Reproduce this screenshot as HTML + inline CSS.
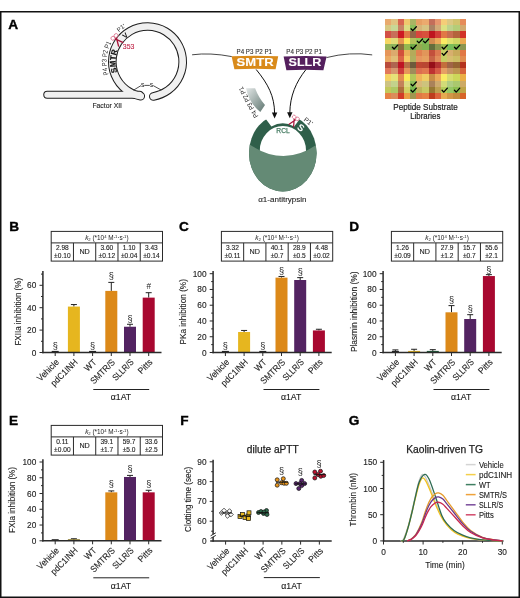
<!DOCTYPE html>
<html><head><meta charset="utf-8"><style>
html,body{margin:0;padding:0;background:#fff;}
body{width:520px;height:598px;overflow:hidden;font-family:"Liberation Sans", sans-serif;}
svg{display:block;will-change:transform;}
</style></head><body>
<svg width="520" height="598" viewBox="0 0 520 598" font-family='"Liberation Sans", sans-serif'>
<rect width="520" height="598" fill="#fff"/>
<rect x="51.20" y="231.40" width="111.30" height="29.70" fill="none" stroke="#2a2a2a" stroke-width="1"/>
<line x1="51.20" y1="242.90" x2="162.50" y2="242.90" stroke="#2a2a2a" stroke-width="1" />
<line x1="73.46" y1="242.90" x2="73.46" y2="261.10" stroke="#2a2a2a" stroke-width="1" />
<line x1="95.72" y1="242.90" x2="95.72" y2="261.10" stroke="#2a2a2a" stroke-width="1" />
<line x1="117.98" y1="242.90" x2="117.98" y2="261.10" stroke="#2a2a2a" stroke-width="1" />
<line x1="140.24" y1="242.90" x2="140.24" y2="261.10" stroke="#2a2a2a" stroke-width="1" />
<text x="106.85" y="239.80" font-size="6.4" text-anchor="middle" fill="#222"><tspan font-style="italic">k</tspan><tspan font-size="4.2" dy="1.2">2</tspan><tspan dy="-1.2"> (*10</tspan><tspan font-size="4.2" dy="-2.2">4</tspan><tspan dy="2.2"> M</tspan><tspan font-size="4.2" dy="-2.2">-1</tspan><tspan dy="2.2">&#183;s</tspan><tspan font-size="4.2" dy="-2.2">-1</tspan><tspan dy="2.2">)</tspan></text>
<text x="62.33" y="250.10" font-size="6.6" text-anchor="middle" fill="#222" font-weight="normal" stroke="#222" stroke-width="0.12" >2.98</text>
<text x="62.33" y="258.30" font-size="6.6" text-anchor="middle" fill="#222" font-weight="normal" stroke="#222" stroke-width="0.12" >&#177;0.10</text>
<text x="84.59" y="254.20" font-size="7.2" text-anchor="middle" fill="#222" font-weight="normal" stroke="#222" stroke-width="0.12" >ND</text>
<text x="106.85" y="250.10" font-size="6.6" text-anchor="middle" fill="#222" font-weight="normal" stroke="#222" stroke-width="0.12" >3.60</text>
<text x="106.85" y="258.30" font-size="6.6" text-anchor="middle" fill="#222" font-weight="normal" stroke="#222" stroke-width="0.12" >&#177;0.12</text>
<text x="129.11" y="250.10" font-size="6.6" text-anchor="middle" fill="#222" font-weight="normal" stroke="#222" stroke-width="0.12" >1.10</text>
<text x="129.11" y="258.30" font-size="6.6" text-anchor="middle" fill="#222" font-weight="normal" stroke="#222" stroke-width="0.12" >&#177;0.04</text>
<text x="151.37" y="250.10" font-size="6.6" text-anchor="middle" fill="#222" font-weight="normal" stroke="#222" stroke-width="0.12" >3.43</text>
<text x="151.37" y="258.30" font-size="6.6" text-anchor="middle" fill="#222" font-weight="normal" stroke="#222" stroke-width="0.12" >&#177;0.14</text>
<rect x="51.70" y="350.90" width="7.00" height="1.20" fill="#222" />
<line x1="73.90" y1="304.56" x2="73.90" y2="306.58" stroke="#222" stroke-width="1" />
<line x1="70.90" y1="304.56" x2="76.90" y2="304.56" stroke="#222" stroke-width="1" />
<rect x="67.90" y="306.58" width="12.00" height="45.92" fill="#E6B61F" />
<rect x="89.10" y="350.90" width="7.00" height="1.20" fill="#222" />
<line x1="111.30" y1="282.39" x2="111.30" y2="290.90" stroke="#222" stroke-width="1" />
<line x1="108.30" y1="282.39" x2="114.30" y2="282.39" stroke="#222" stroke-width="1" />
<rect x="105.30" y="290.90" width="12.00" height="61.60" fill="#DC8919" />
<line x1="130.00" y1="324.28" x2="130.00" y2="326.74" stroke="#222" stroke-width="1" />
<line x1="127.00" y1="324.28" x2="133.00" y2="324.28" stroke="#222" stroke-width="1" />
<rect x="124.00" y="326.74" width="12.00" height="25.76" fill="#532362" />
<line x1="148.70" y1="292.69" x2="148.70" y2="297.62" stroke="#222" stroke-width="1" />
<line x1="145.70" y1="292.69" x2="151.70" y2="292.69" stroke="#222" stroke-width="1" />
<rect x="142.70" y="297.62" width="12.00" height="54.88" fill="#A80830" />
<line x1="42.15" y1="352.50" x2="161.50" y2="352.50" stroke="#2a2a2a" stroke-width="1.5" />
<line x1="42.90" y1="271.00" x2="42.90" y2="353.25" stroke="#2a2a2a" stroke-width="1.5" />
<line x1="39.50" y1="352.50" x2="42.90" y2="352.50" stroke="#2a2a2a" stroke-width="1" />
<text x="36.30" y="355.50" font-size="8.3" text-anchor="end" fill="#222" font-weight="normal" stroke="#222" stroke-width="0.12" >0</text>
<line x1="39.50" y1="330.10" x2="42.90" y2="330.10" stroke="#2a2a2a" stroke-width="1" />
<text x="36.30" y="333.10" font-size="8.3" text-anchor="end" fill="#222" font-weight="normal" stroke="#222" stroke-width="0.12" >20</text>
<line x1="39.50" y1="307.70" x2="42.90" y2="307.70" stroke="#2a2a2a" stroke-width="1" />
<text x="36.30" y="310.70" font-size="8.3" text-anchor="end" fill="#222" font-weight="normal" stroke="#222" stroke-width="0.12" >40</text>
<line x1="39.50" y1="285.30" x2="42.90" y2="285.30" stroke="#2a2a2a" stroke-width="1" />
<text x="36.30" y="288.30" font-size="8.3" text-anchor="end" fill="#222" font-weight="normal" stroke="#222" stroke-width="0.12" >60</text>
<line x1="41.00" y1="341.30" x2="42.90" y2="341.30" stroke="#2a2a2a" stroke-width="1" />
<line x1="41.00" y1="318.90" x2="42.90" y2="318.90" stroke="#2a2a2a" stroke-width="1" />
<line x1="41.00" y1="296.50" x2="42.90" y2="296.50" stroke="#2a2a2a" stroke-width="1" />
<line x1="41.00" y1="274.10" x2="42.90" y2="274.10" stroke="#2a2a2a" stroke-width="1" />
<line x1="55.20" y1="352.50" x2="55.20" y2="356.00" stroke="#2a2a2a" stroke-width="1" />
<line x1="73.90" y1="352.50" x2="73.90" y2="356.00" stroke="#2a2a2a" stroke-width="1" />
<line x1="92.60" y1="352.50" x2="92.60" y2="356.00" stroke="#2a2a2a" stroke-width="1" />
<line x1="111.30" y1="352.50" x2="111.30" y2="356.00" stroke="#2a2a2a" stroke-width="1" />
<line x1="130.00" y1="352.50" x2="130.00" y2="356.00" stroke="#2a2a2a" stroke-width="1" />
<line x1="148.70" y1="352.50" x2="148.70" y2="356.00" stroke="#2a2a2a" stroke-width="1" />
<text x="55.20" y="348.62" font-size="9.2" text-anchor="middle" fill="#222" font-weight="normal" >&#167;</text>
<text x="92.60" y="348.62" font-size="9.2" text-anchor="middle" fill="#222" font-weight="normal" >&#167;</text>
<text x="111.30" y="279.22" font-size="9.2" text-anchor="middle" fill="#222" font-weight="normal" >&#167;</text>
<text x="130.00" y="322.12" font-size="9.2" text-anchor="middle" fill="#222" font-weight="normal" >&#167;</text>
<text x="148.80" y="289.00" font-size="8.2" text-anchor="middle" fill="#222" font-weight="normal" >#</text>
<text x="20.90" y="311.75" font-size="9.6" text-anchor="middle" fill="#222" font-weight="normal" textLength="67.6" lengthAdjust="spacingAndGlyphs" stroke="#222" stroke-width="0.12" transform="rotate(-90 20.90 311.75)">FXIIa inhibition (%)</text>
<text x="59.60" y="362.80" font-size="9.0" text-anchor="end" fill="#222" font-weight="normal" textLength="26.9" lengthAdjust="spacingAndGlyphs" stroke="#222" stroke-width="0.12" transform="rotate(-45 59.60 362.80)">Vehicle</text>
<text x="78.30" y="362.80" font-size="9.0" text-anchor="end" fill="#222" font-weight="normal" textLength="34.0" lengthAdjust="spacingAndGlyphs" stroke="#222" stroke-width="0.12" transform="rotate(-45 78.30 362.80)">pdC1INH</text>
<text x="97.00" y="362.80" font-size="9.0" text-anchor="end" fill="#222" font-weight="normal" textLength="13.0" lengthAdjust="spacingAndGlyphs" stroke="#222" stroke-width="0.12" transform="rotate(-45 97.00 362.80)">WT</text>
<text x="115.70" y="362.80" font-size="9.0" text-anchor="end" fill="#222" font-weight="normal" textLength="30.8" lengthAdjust="spacingAndGlyphs" stroke="#222" stroke-width="0.12" transform="rotate(-45 115.70 362.80)">SMTR/S</text>
<text x="134.40" y="362.80" font-size="9.0" text-anchor="end" fill="#222" font-weight="normal" textLength="26.0" lengthAdjust="spacingAndGlyphs" stroke="#222" stroke-width="0.12" transform="rotate(-45 134.40 362.80)">SLLR/S</text>
<text x="153.10" y="362.80" font-size="9.0" text-anchor="end" fill="#222" font-weight="normal" textLength="16.5" lengthAdjust="spacingAndGlyphs" stroke="#222" stroke-width="0.12" transform="rotate(-45 153.10 362.80)">Pitts</text>
<line x1="93.30" y1="389.50" x2="149.20" y2="389.50" stroke="#222" stroke-width="1" />
<text x="120.95" y="400.30" font-size="8.2" text-anchor="middle" fill="#222" font-weight="normal" textLength="20.4" lengthAdjust="spacingAndGlyphs" stroke="#222" stroke-width="0.12" >&#945;1AT</text>
<rect x="221.40" y="231.40" width="111.30" height="29.70" fill="none" stroke="#2a2a2a" stroke-width="1"/>
<line x1="221.40" y1="242.90" x2="332.70" y2="242.90" stroke="#2a2a2a" stroke-width="1" />
<line x1="243.66" y1="242.90" x2="243.66" y2="261.10" stroke="#2a2a2a" stroke-width="1" />
<line x1="265.92" y1="242.90" x2="265.92" y2="261.10" stroke="#2a2a2a" stroke-width="1" />
<line x1="288.18" y1="242.90" x2="288.18" y2="261.10" stroke="#2a2a2a" stroke-width="1" />
<line x1="310.44" y1="242.90" x2="310.44" y2="261.10" stroke="#2a2a2a" stroke-width="1" />
<text x="277.05" y="239.80" font-size="6.4" text-anchor="middle" fill="#222"><tspan font-style="italic">k</tspan><tspan font-size="4.2" dy="1.2">2</tspan><tspan dy="-1.2"> (*10</tspan><tspan font-size="4.2" dy="-2.2">4</tspan><tspan dy="2.2"> M</tspan><tspan font-size="4.2" dy="-2.2">-1</tspan><tspan dy="2.2">&#183;s</tspan><tspan font-size="4.2" dy="-2.2">-1</tspan><tspan dy="2.2">)</tspan></text>
<text x="232.53" y="250.10" font-size="6.6" text-anchor="middle" fill="#222" font-weight="normal" stroke="#222" stroke-width="0.12" >3.32</text>
<text x="232.53" y="258.30" font-size="6.6" text-anchor="middle" fill="#222" font-weight="normal" stroke="#222" stroke-width="0.12" >&#177;0.11</text>
<text x="254.79" y="254.20" font-size="7.2" text-anchor="middle" fill="#222" font-weight="normal" stroke="#222" stroke-width="0.12" >ND</text>
<text x="277.05" y="250.10" font-size="6.6" text-anchor="middle" fill="#222" font-weight="normal" stroke="#222" stroke-width="0.12" >40.1</text>
<text x="277.05" y="258.30" font-size="6.6" text-anchor="middle" fill="#222" font-weight="normal" stroke="#222" stroke-width="0.12" >&#177;0.7</text>
<text x="299.31" y="250.10" font-size="6.6" text-anchor="middle" fill="#222" font-weight="normal" stroke="#222" stroke-width="0.12" >28.9</text>
<text x="299.31" y="258.30" font-size="6.6" text-anchor="middle" fill="#222" font-weight="normal" stroke="#222" stroke-width="0.12" >&#177;0.5</text>
<text x="321.57" y="250.10" font-size="6.6" text-anchor="middle" fill="#222" font-weight="normal" stroke="#222" stroke-width="0.12" >4.48</text>
<text x="321.57" y="258.30" font-size="6.6" text-anchor="middle" fill="#222" font-weight="normal" stroke="#222" stroke-width="0.12" >&#177;0.02</text>
<rect x="221.90" y="350.90" width="7.00" height="1.20" fill="#222" />
<line x1="244.10" y1="330.44" x2="244.10" y2="332.01" stroke="#222" stroke-width="1" />
<line x1="241.10" y1="330.44" x2="247.10" y2="330.44" stroke="#222" stroke-width="1" />
<rect x="238.10" y="332.01" width="12.00" height="20.49" fill="#E6B61F" />
<rect x="259.30" y="350.90" width="7.00" height="1.20" fill="#222" />
<line x1="281.50" y1="276.46" x2="281.50" y2="277.64" stroke="#222" stroke-width="1" />
<line x1="278.50" y1="276.46" x2="284.50" y2="276.46" stroke="#222" stroke-width="1" />
<rect x="275.50" y="277.64" width="12.00" height="74.86" fill="#DC8919" />
<line x1="300.20" y1="277.64" x2="300.20" y2="280.00" stroke="#222" stroke-width="1" />
<line x1="297.20" y1="277.64" x2="303.20" y2="277.64" stroke="#222" stroke-width="1" />
<rect x="294.20" y="280.00" width="12.00" height="72.50" fill="#532362" />
<line x1="318.90" y1="329.25" x2="318.90" y2="330.44" stroke="#222" stroke-width="1" />
<line x1="315.90" y1="329.25" x2="321.90" y2="329.25" stroke="#222" stroke-width="1" />
<rect x="312.90" y="330.44" width="12.00" height="22.06" fill="#A80830" />
<line x1="212.35" y1="352.50" x2="331.70" y2="352.50" stroke="#2a2a2a" stroke-width="1.5" />
<line x1="213.10" y1="271.00" x2="213.10" y2="353.25" stroke="#2a2a2a" stroke-width="1.5" />
<line x1="209.70" y1="352.50" x2="213.10" y2="352.50" stroke="#2a2a2a" stroke-width="1" />
<text x="206.50" y="355.50" font-size="8.3" text-anchor="end" fill="#222" font-weight="normal" stroke="#222" stroke-width="0.12" >0</text>
<line x1="209.70" y1="336.74" x2="213.10" y2="336.74" stroke="#2a2a2a" stroke-width="1" />
<text x="206.50" y="339.74" font-size="8.3" text-anchor="end" fill="#222" font-weight="normal" stroke="#222" stroke-width="0.12" >20</text>
<line x1="209.70" y1="320.98" x2="213.10" y2="320.98" stroke="#2a2a2a" stroke-width="1" />
<text x="206.50" y="323.98" font-size="8.3" text-anchor="end" fill="#222" font-weight="normal" stroke="#222" stroke-width="0.12" >40</text>
<line x1="209.70" y1="305.22" x2="213.10" y2="305.22" stroke="#2a2a2a" stroke-width="1" />
<text x="206.50" y="308.22" font-size="8.3" text-anchor="end" fill="#222" font-weight="normal" stroke="#222" stroke-width="0.12" >60</text>
<line x1="209.70" y1="289.46" x2="213.10" y2="289.46" stroke="#2a2a2a" stroke-width="1" />
<text x="206.50" y="292.46" font-size="8.3" text-anchor="end" fill="#222" font-weight="normal" stroke="#222" stroke-width="0.12" >80</text>
<line x1="209.70" y1="273.70" x2="213.10" y2="273.70" stroke="#2a2a2a" stroke-width="1" />
<text x="206.50" y="276.70" font-size="8.3" text-anchor="end" fill="#222" font-weight="normal" stroke="#222" stroke-width="0.12" >100</text>
<line x1="211.20" y1="344.62" x2="213.10" y2="344.62" stroke="#2a2a2a" stroke-width="1" />
<line x1="211.20" y1="328.86" x2="213.10" y2="328.86" stroke="#2a2a2a" stroke-width="1" />
<line x1="211.20" y1="313.10" x2="213.10" y2="313.10" stroke="#2a2a2a" stroke-width="1" />
<line x1="211.20" y1="297.34" x2="213.10" y2="297.34" stroke="#2a2a2a" stroke-width="1" />
<line x1="211.20" y1="281.58" x2="213.10" y2="281.58" stroke="#2a2a2a" stroke-width="1" />
<line x1="225.40" y1="352.50" x2="225.40" y2="356.00" stroke="#2a2a2a" stroke-width="1" />
<line x1="244.10" y1="352.50" x2="244.10" y2="356.00" stroke="#2a2a2a" stroke-width="1" />
<line x1="262.80" y1="352.50" x2="262.80" y2="356.00" stroke="#2a2a2a" stroke-width="1" />
<line x1="281.50" y1="352.50" x2="281.50" y2="356.00" stroke="#2a2a2a" stroke-width="1" />
<line x1="300.20" y1="352.50" x2="300.20" y2="356.00" stroke="#2a2a2a" stroke-width="1" />
<line x1="318.90" y1="352.50" x2="318.90" y2="356.00" stroke="#2a2a2a" stroke-width="1" />
<text x="225.40" y="349.42" font-size="9.2" text-anchor="middle" fill="#222" font-weight="normal" >&#167;</text>
<text x="262.80" y="349.42" font-size="9.2" text-anchor="middle" fill="#222" font-weight="normal" >&#167;</text>
<text x="281.50" y="274.02" font-size="9.2" text-anchor="middle" fill="#222" font-weight="normal" >&#167;</text>
<text x="300.20" y="274.82" font-size="9.2" text-anchor="middle" fill="#222" font-weight="normal" >&#167;</text>
<text x="185.90" y="311.75" font-size="9.6" text-anchor="middle" fill="#222" font-weight="normal" textLength="65.4" lengthAdjust="spacingAndGlyphs" stroke="#222" stroke-width="0.12" transform="rotate(-90 185.90 311.75)">PKa inhibition (%)</text>
<text x="229.80" y="362.80" font-size="9.0" text-anchor="end" fill="#222" font-weight="normal" textLength="26.9" lengthAdjust="spacingAndGlyphs" stroke="#222" stroke-width="0.12" transform="rotate(-45 229.80 362.80)">Vehicle</text>
<text x="248.50" y="362.80" font-size="9.0" text-anchor="end" fill="#222" font-weight="normal" textLength="34.0" lengthAdjust="spacingAndGlyphs" stroke="#222" stroke-width="0.12" transform="rotate(-45 248.50 362.80)">pdC1INH</text>
<text x="267.20" y="362.80" font-size="9.0" text-anchor="end" fill="#222" font-weight="normal" textLength="13.0" lengthAdjust="spacingAndGlyphs" stroke="#222" stroke-width="0.12" transform="rotate(-45 267.20 362.80)">WT</text>
<text x="285.90" y="362.80" font-size="9.0" text-anchor="end" fill="#222" font-weight="normal" textLength="30.8" lengthAdjust="spacingAndGlyphs" stroke="#222" stroke-width="0.12" transform="rotate(-45 285.90 362.80)">SMTR/S</text>
<text x="304.60" y="362.80" font-size="9.0" text-anchor="end" fill="#222" font-weight="normal" textLength="26.0" lengthAdjust="spacingAndGlyphs" stroke="#222" stroke-width="0.12" transform="rotate(-45 304.60 362.80)">SLLR/S</text>
<text x="323.30" y="362.80" font-size="9.0" text-anchor="end" fill="#222" font-weight="normal" textLength="16.5" lengthAdjust="spacingAndGlyphs" stroke="#222" stroke-width="0.12" transform="rotate(-45 323.30 362.80)">Pitts</text>
<line x1="263.50" y1="389.50" x2="319.40" y2="389.50" stroke="#222" stroke-width="1" />
<text x="291.15" y="400.30" font-size="8.2" text-anchor="middle" fill="#222" font-weight="normal" textLength="20.4" lengthAdjust="spacingAndGlyphs" stroke="#222" stroke-width="0.12" >&#945;1AT</text>
<rect x="391.40" y="231.40" width="111.30" height="29.70" fill="none" stroke="#2a2a2a" stroke-width="1"/>
<line x1="391.40" y1="242.90" x2="502.70" y2="242.90" stroke="#2a2a2a" stroke-width="1" />
<line x1="413.66" y1="242.90" x2="413.66" y2="261.10" stroke="#2a2a2a" stroke-width="1" />
<line x1="435.92" y1="242.90" x2="435.92" y2="261.10" stroke="#2a2a2a" stroke-width="1" />
<line x1="458.18" y1="242.90" x2="458.18" y2="261.10" stroke="#2a2a2a" stroke-width="1" />
<line x1="480.44" y1="242.90" x2="480.44" y2="261.10" stroke="#2a2a2a" stroke-width="1" />
<text x="447.05" y="239.80" font-size="6.4" text-anchor="middle" fill="#222"><tspan font-style="italic">k</tspan><tspan font-size="4.2" dy="1.2">2</tspan><tspan dy="-1.2"> (*10</tspan><tspan font-size="4.2" dy="-2.2">4</tspan><tspan dy="2.2"> M</tspan><tspan font-size="4.2" dy="-2.2">-1</tspan><tspan dy="2.2">&#183;s</tspan><tspan font-size="4.2" dy="-2.2">-1</tspan><tspan dy="2.2">)</tspan></text>
<text x="402.53" y="250.10" font-size="6.6" text-anchor="middle" fill="#222" font-weight="normal" stroke="#222" stroke-width="0.12" >1.26</text>
<text x="402.53" y="258.30" font-size="6.6" text-anchor="middle" fill="#222" font-weight="normal" stroke="#222" stroke-width="0.12" >&#177;0.09</text>
<text x="424.79" y="254.20" font-size="7.2" text-anchor="middle" fill="#222" font-weight="normal" stroke="#222" stroke-width="0.12" >ND</text>
<text x="447.05" y="250.10" font-size="6.6" text-anchor="middle" fill="#222" font-weight="normal" stroke="#222" stroke-width="0.12" >27.9</text>
<text x="447.05" y="258.30" font-size="6.6" text-anchor="middle" fill="#222" font-weight="normal" stroke="#222" stroke-width="0.12" >&#177;1.2</text>
<text x="469.31" y="250.10" font-size="6.6" text-anchor="middle" fill="#222" font-weight="normal" stroke="#222" stroke-width="0.12" >15.7</text>
<text x="469.31" y="258.30" font-size="6.6" text-anchor="middle" fill="#222" font-weight="normal" stroke="#222" stroke-width="0.12" >&#177;0.7</text>
<text x="491.57" y="250.10" font-size="6.6" text-anchor="middle" fill="#222" font-weight="normal" stroke="#222" stroke-width="0.12" >55.6</text>
<text x="491.57" y="258.30" font-size="6.6" text-anchor="middle" fill="#222" font-weight="normal" stroke="#222" stroke-width="0.12" >&#177;2.1</text>
<line x1="395.40" y1="349.90" x2="395.40" y2="352.26" stroke="#222" stroke-width="1" />
<line x1="392.40" y1="349.90" x2="398.40" y2="349.90" stroke="#222" stroke-width="1" />
<rect x="391.90" y="350.90" width="7.00" height="1.20" fill="#222" />
<line x1="414.10" y1="349.27" x2="414.10" y2="352.03" stroke="#222" stroke-width="1" />
<line x1="411.10" y1="349.27" x2="417.10" y2="349.27" stroke="#222" stroke-width="1" />
<rect x="408.10" y="350.90" width="12.00" height="1.20" fill="#E6B61F" />
<line x1="432.80" y1="349.66" x2="432.80" y2="352.03" stroke="#222" stroke-width="1" />
<line x1="429.80" y1="349.66" x2="435.80" y2="349.66" stroke="#222" stroke-width="1" />
<rect x="426.80" y="350.90" width="12.00" height="1.20" fill="#1f5a3a" />
<line x1="451.50" y1="305.61" x2="451.50" y2="312.31" stroke="#222" stroke-width="1" />
<line x1="448.50" y1="305.61" x2="454.50" y2="305.61" stroke="#222" stroke-width="1" />
<rect x="445.50" y="312.31" width="12.00" height="40.19" fill="#DC8919" />
<line x1="470.20" y1="314.68" x2="470.20" y2="319.01" stroke="#222" stroke-width="1" />
<line x1="467.20" y1="314.68" x2="473.20" y2="314.68" stroke="#222" stroke-width="1" />
<rect x="464.20" y="319.01" width="12.00" height="33.49" fill="#532362" />
<line x1="488.90" y1="274.65" x2="488.90" y2="276.06" stroke="#222" stroke-width="1" />
<line x1="485.90" y1="274.65" x2="491.90" y2="274.65" stroke="#222" stroke-width="1" />
<rect x="482.90" y="276.06" width="12.00" height="76.44" fill="#A80830" />
<line x1="382.35" y1="352.50" x2="501.70" y2="352.50" stroke="#2a2a2a" stroke-width="1.5" />
<line x1="383.10" y1="271.00" x2="383.10" y2="353.25" stroke="#2a2a2a" stroke-width="1.5" />
<line x1="379.70" y1="352.50" x2="383.10" y2="352.50" stroke="#2a2a2a" stroke-width="1" />
<text x="376.50" y="355.50" font-size="8.3" text-anchor="end" fill="#222" font-weight="normal" stroke="#222" stroke-width="0.12" >0</text>
<line x1="379.70" y1="336.74" x2="383.10" y2="336.74" stroke="#2a2a2a" stroke-width="1" />
<text x="376.50" y="339.74" font-size="8.3" text-anchor="end" fill="#222" font-weight="normal" stroke="#222" stroke-width="0.12" >20</text>
<line x1="379.70" y1="320.98" x2="383.10" y2="320.98" stroke="#2a2a2a" stroke-width="1" />
<text x="376.50" y="323.98" font-size="8.3" text-anchor="end" fill="#222" font-weight="normal" stroke="#222" stroke-width="0.12" >40</text>
<line x1="379.70" y1="305.22" x2="383.10" y2="305.22" stroke="#2a2a2a" stroke-width="1" />
<text x="376.50" y="308.22" font-size="8.3" text-anchor="end" fill="#222" font-weight="normal" stroke="#222" stroke-width="0.12" >60</text>
<line x1="379.70" y1="289.46" x2="383.10" y2="289.46" stroke="#2a2a2a" stroke-width="1" />
<text x="376.50" y="292.46" font-size="8.3" text-anchor="end" fill="#222" font-weight="normal" stroke="#222" stroke-width="0.12" >80</text>
<line x1="379.70" y1="273.70" x2="383.10" y2="273.70" stroke="#2a2a2a" stroke-width="1" />
<text x="376.50" y="276.70" font-size="8.3" text-anchor="end" fill="#222" font-weight="normal" stroke="#222" stroke-width="0.12" >100</text>
<line x1="381.20" y1="344.62" x2="383.10" y2="344.62" stroke="#2a2a2a" stroke-width="1" />
<line x1="381.20" y1="328.86" x2="383.10" y2="328.86" stroke="#2a2a2a" stroke-width="1" />
<line x1="381.20" y1="313.10" x2="383.10" y2="313.10" stroke="#2a2a2a" stroke-width="1" />
<line x1="381.20" y1="297.34" x2="383.10" y2="297.34" stroke="#2a2a2a" stroke-width="1" />
<line x1="381.20" y1="281.58" x2="383.10" y2="281.58" stroke="#2a2a2a" stroke-width="1" />
<line x1="395.40" y1="352.50" x2="395.40" y2="356.00" stroke="#2a2a2a" stroke-width="1" />
<line x1="414.10" y1="352.50" x2="414.10" y2="356.00" stroke="#2a2a2a" stroke-width="1" />
<line x1="432.80" y1="352.50" x2="432.80" y2="356.00" stroke="#2a2a2a" stroke-width="1" />
<line x1="451.50" y1="352.50" x2="451.50" y2="356.00" stroke="#2a2a2a" stroke-width="1" />
<line x1="470.20" y1="352.50" x2="470.20" y2="356.00" stroke="#2a2a2a" stroke-width="1" />
<line x1="488.90" y1="352.50" x2="488.90" y2="356.00" stroke="#2a2a2a" stroke-width="1" />
<text x="451.50" y="302.82" font-size="9.2" text-anchor="middle" fill="#222" font-weight="normal" >&#167;</text>
<text x="470.20" y="311.62" font-size="9.2" text-anchor="middle" fill="#222" font-weight="normal" >&#167;</text>
<text x="488.90" y="272.52" font-size="9.2" text-anchor="middle" fill="#222" font-weight="normal" >&#167;</text>
<text x="356.80" y="311.75" font-size="9.6" text-anchor="middle" fill="#222" font-weight="normal" textLength="80.7" lengthAdjust="spacingAndGlyphs" stroke="#222" stroke-width="0.12" transform="rotate(-90 356.80 311.75)">Plasmin inhibition (%)</text>
<text x="399.80" y="362.80" font-size="9.0" text-anchor="end" fill="#222" font-weight="normal" textLength="26.9" lengthAdjust="spacingAndGlyphs" stroke="#222" stroke-width="0.12" transform="rotate(-45 399.80 362.80)">Vehicle</text>
<text x="418.50" y="362.80" font-size="9.0" text-anchor="end" fill="#222" font-weight="normal" textLength="34.0" lengthAdjust="spacingAndGlyphs" stroke="#222" stroke-width="0.12" transform="rotate(-45 418.50 362.80)">pdC1INH</text>
<text x="437.20" y="362.80" font-size="9.0" text-anchor="end" fill="#222" font-weight="normal" textLength="13.0" lengthAdjust="spacingAndGlyphs" stroke="#222" stroke-width="0.12" transform="rotate(-45 437.20 362.80)">WT</text>
<text x="455.90" y="362.80" font-size="9.0" text-anchor="end" fill="#222" font-weight="normal" textLength="30.8" lengthAdjust="spacingAndGlyphs" stroke="#222" stroke-width="0.12" transform="rotate(-45 455.90 362.80)">SMTR/S</text>
<text x="474.60" y="362.80" font-size="9.0" text-anchor="end" fill="#222" font-weight="normal" textLength="26.0" lengthAdjust="spacingAndGlyphs" stroke="#222" stroke-width="0.12" transform="rotate(-45 474.60 362.80)">SLLR/S</text>
<text x="493.30" y="362.80" font-size="9.0" text-anchor="end" fill="#222" font-weight="normal" textLength="16.5" lengthAdjust="spacingAndGlyphs" stroke="#222" stroke-width="0.12" transform="rotate(-45 493.30 362.80)">Pitts</text>
<line x1="433.50" y1="389.50" x2="489.40" y2="389.50" stroke="#222" stroke-width="1" />
<text x="461.15" y="400.30" font-size="8.2" text-anchor="middle" fill="#222" font-weight="normal" textLength="20.4" lengthAdjust="spacingAndGlyphs" stroke="#222" stroke-width="0.12" >&#945;1AT</text>
<rect x="51.20" y="425.40" width="111.30" height="29.70" fill="none" stroke="#2a2a2a" stroke-width="1"/>
<line x1="51.20" y1="436.90" x2="162.50" y2="436.90" stroke="#2a2a2a" stroke-width="1" />
<line x1="73.46" y1="436.90" x2="73.46" y2="455.10" stroke="#2a2a2a" stroke-width="1" />
<line x1="95.72" y1="436.90" x2="95.72" y2="455.10" stroke="#2a2a2a" stroke-width="1" />
<line x1="117.98" y1="436.90" x2="117.98" y2="455.10" stroke="#2a2a2a" stroke-width="1" />
<line x1="140.24" y1="436.90" x2="140.24" y2="455.10" stroke="#2a2a2a" stroke-width="1" />
<text x="106.85" y="433.80" font-size="6.4" text-anchor="middle" fill="#222"><tspan font-style="italic">k</tspan><tspan font-size="4.2" dy="1.2">2</tspan><tspan dy="-1.2"> (*10</tspan><tspan font-size="4.2" dy="-2.2">4</tspan><tspan dy="2.2"> M</tspan><tspan font-size="4.2" dy="-2.2">-1</tspan><tspan dy="2.2">&#183;s</tspan><tspan font-size="4.2" dy="-2.2">-1</tspan><tspan dy="2.2">)</tspan></text>
<text x="62.33" y="444.10" font-size="6.6" text-anchor="middle" fill="#222" font-weight="normal" stroke="#222" stroke-width="0.12" >0.11</text>
<text x="62.33" y="452.30" font-size="6.6" text-anchor="middle" fill="#222" font-weight="normal" stroke="#222" stroke-width="0.12" >&#177;0.00</text>
<text x="84.59" y="448.20" font-size="7.2" text-anchor="middle" fill="#222" font-weight="normal" stroke="#222" stroke-width="0.12" >ND</text>
<text x="106.85" y="444.10" font-size="6.6" text-anchor="middle" fill="#222" font-weight="normal" stroke="#222" stroke-width="0.12" >39.1</text>
<text x="106.85" y="452.30" font-size="6.6" text-anchor="middle" fill="#222" font-weight="normal" stroke="#222" stroke-width="0.12" >&#177;1.7</text>
<text x="129.11" y="444.10" font-size="6.6" text-anchor="middle" fill="#222" font-weight="normal" stroke="#222" stroke-width="0.12" >59.7</text>
<text x="129.11" y="452.30" font-size="6.6" text-anchor="middle" fill="#222" font-weight="normal" stroke="#222" stroke-width="0.12" >&#177;5.0</text>
<text x="151.37" y="444.10" font-size="6.6" text-anchor="middle" fill="#222" font-weight="normal" stroke="#222" stroke-width="0.12" >33.6</text>
<text x="151.37" y="452.30" font-size="6.6" text-anchor="middle" fill="#222" font-weight="normal" stroke="#222" stroke-width="0.12" >&#177;2.5</text>
<rect x="51.70" y="539.20" width="7.00" height="1.20" fill="#222" />
<line x1="73.90" y1="538.75" x2="73.90" y2="540.33" stroke="#222" stroke-width="1" />
<line x1="70.90" y1="538.75" x2="76.90" y2="538.75" stroke="#222" stroke-width="1" />
<rect x="67.90" y="539.20" width="12.00" height="1.20" fill="#8a7a30" />
<line x1="111.30" y1="490.92" x2="111.30" y2="492.34" stroke="#222" stroke-width="1" />
<line x1="108.30" y1="490.92" x2="114.30" y2="490.92" stroke="#222" stroke-width="1" />
<rect x="105.30" y="492.34" width="12.00" height="48.46" fill="#DC8919" />
<line x1="130.00" y1="475.40" x2="130.00" y2="476.97" stroke="#222" stroke-width="1" />
<line x1="127.00" y1="475.40" x2="133.00" y2="475.40" stroke="#222" stroke-width="1" />
<rect x="124.00" y="476.97" width="12.00" height="63.83" fill="#532362" />
<line x1="148.70" y1="490.29" x2="148.70" y2="492.34" stroke="#222" stroke-width="1" />
<line x1="145.70" y1="490.29" x2="151.70" y2="490.29" stroke="#222" stroke-width="1" />
<rect x="142.70" y="492.34" width="12.00" height="48.46" fill="#A80830" />
<line x1="42.15" y1="540.80" x2="161.50" y2="540.80" stroke="#2a2a2a" stroke-width="1.5" />
<line x1="42.90" y1="459.30" x2="42.90" y2="541.55" stroke="#2a2a2a" stroke-width="1.5" />
<line x1="39.50" y1="540.80" x2="42.90" y2="540.80" stroke="#2a2a2a" stroke-width="1" />
<text x="36.30" y="543.80" font-size="8.3" text-anchor="end" fill="#222" font-weight="normal" stroke="#222" stroke-width="0.12" >0</text>
<line x1="39.50" y1="525.04" x2="42.90" y2="525.04" stroke="#2a2a2a" stroke-width="1" />
<text x="36.30" y="528.04" font-size="8.3" text-anchor="end" fill="#222" font-weight="normal" stroke="#222" stroke-width="0.12" >20</text>
<line x1="39.50" y1="509.28" x2="42.90" y2="509.28" stroke="#2a2a2a" stroke-width="1" />
<text x="36.30" y="512.28" font-size="8.3" text-anchor="end" fill="#222" font-weight="normal" stroke="#222" stroke-width="0.12" >40</text>
<line x1="39.50" y1="493.52" x2="42.90" y2="493.52" stroke="#2a2a2a" stroke-width="1" />
<text x="36.30" y="496.52" font-size="8.3" text-anchor="end" fill="#222" font-weight="normal" stroke="#222" stroke-width="0.12" >60</text>
<line x1="39.50" y1="477.76" x2="42.90" y2="477.76" stroke="#2a2a2a" stroke-width="1" />
<text x="36.30" y="480.76" font-size="8.3" text-anchor="end" fill="#222" font-weight="normal" stroke="#222" stroke-width="0.12" >80</text>
<line x1="39.50" y1="462.00" x2="42.90" y2="462.00" stroke="#2a2a2a" stroke-width="1" />
<text x="36.30" y="465.00" font-size="8.3" text-anchor="end" fill="#222" font-weight="normal" stroke="#222" stroke-width="0.12" >100</text>
<line x1="41.00" y1="532.92" x2="42.90" y2="532.92" stroke="#2a2a2a" stroke-width="1" />
<line x1="41.00" y1="517.16" x2="42.90" y2="517.16" stroke="#2a2a2a" stroke-width="1" />
<line x1="41.00" y1="501.40" x2="42.90" y2="501.40" stroke="#2a2a2a" stroke-width="1" />
<line x1="41.00" y1="485.64" x2="42.90" y2="485.64" stroke="#2a2a2a" stroke-width="1" />
<line x1="41.00" y1="469.88" x2="42.90" y2="469.88" stroke="#2a2a2a" stroke-width="1" />
<line x1="55.20" y1="540.80" x2="55.20" y2="544.30" stroke="#2a2a2a" stroke-width="1" />
<line x1="73.90" y1="540.80" x2="73.90" y2="544.30" stroke="#2a2a2a" stroke-width="1" />
<line x1="92.60" y1="540.80" x2="92.60" y2="544.30" stroke="#2a2a2a" stroke-width="1" />
<line x1="111.30" y1="540.80" x2="111.30" y2="544.30" stroke="#2a2a2a" stroke-width="1" />
<line x1="130.00" y1="540.80" x2="130.00" y2="544.30" stroke="#2a2a2a" stroke-width="1" />
<line x1="148.70" y1="540.80" x2="148.70" y2="544.30" stroke="#2a2a2a" stroke-width="1" />
<text x="111.30" y="487.32" font-size="9.2" text-anchor="middle" fill="#222" font-weight="normal" >&#167;</text>
<text x="130.00" y="471.92" font-size="9.2" text-anchor="middle" fill="#222" font-weight="normal" >&#167;</text>
<text x="148.70" y="486.62" font-size="9.2" text-anchor="middle" fill="#222" font-weight="normal" >&#167;</text>
<text x="15.10" y="500.05" font-size="9.6" text-anchor="middle" fill="#222" font-weight="normal" textLength="66.0" lengthAdjust="spacingAndGlyphs" stroke="#222" stroke-width="0.12" transform="rotate(-90 15.10 500.05)">FXIa inhibition (%)</text>
<text x="59.60" y="551.10" font-size="9.0" text-anchor="end" fill="#222" font-weight="normal" textLength="26.9" lengthAdjust="spacingAndGlyphs" stroke="#222" stroke-width="0.12" transform="rotate(-45 59.60 551.10)">Vehicle</text>
<text x="78.30" y="551.10" font-size="9.0" text-anchor="end" fill="#222" font-weight="normal" textLength="34.0" lengthAdjust="spacingAndGlyphs" stroke="#222" stroke-width="0.12" transform="rotate(-45 78.30 551.10)">pdC1INH</text>
<text x="97.00" y="551.10" font-size="9.0" text-anchor="end" fill="#222" font-weight="normal" textLength="13.0" lengthAdjust="spacingAndGlyphs" stroke="#222" stroke-width="0.12" transform="rotate(-45 97.00 551.10)">WT</text>
<text x="115.70" y="551.10" font-size="9.0" text-anchor="end" fill="#222" font-weight="normal" textLength="30.8" lengthAdjust="spacingAndGlyphs" stroke="#222" stroke-width="0.12" transform="rotate(-45 115.70 551.10)">SMTR/S</text>
<text x="134.40" y="551.10" font-size="9.0" text-anchor="end" fill="#222" font-weight="normal" textLength="26.0" lengthAdjust="spacingAndGlyphs" stroke="#222" stroke-width="0.12" transform="rotate(-45 134.40 551.10)">SLLR/S</text>
<text x="153.10" y="551.10" font-size="9.0" text-anchor="end" fill="#222" font-weight="normal" textLength="16.5" lengthAdjust="spacingAndGlyphs" stroke="#222" stroke-width="0.12" transform="rotate(-45 153.10 551.10)">Pitts</text>
<line x1="93.30" y1="577.80" x2="149.20" y2="577.80" stroke="#222" stroke-width="1" />
<text x="120.95" y="588.60" font-size="8.2" text-anchor="middle" fill="#222" font-weight="normal" textLength="20.4" lengthAdjust="spacingAndGlyphs" stroke="#222" stroke-width="0.12" >&#945;1AT</text>
<line x1="213.10" y1="459.70" x2="213.10" y2="534.30" stroke="#2a2a2a" stroke-width="1.5" />
<line x1="213.10" y1="536.90" x2="213.10" y2="541.80" stroke="#2a2a2a" stroke-width="1.5" />
<line x1="210.20" y1="541.10" x2="331.70" y2="541.10" stroke="#2a2a2a" stroke-width="1.5" />
<line x1="209.70" y1="521.20" x2="213.10" y2="521.20" stroke="#2a2a2a" stroke-width="1" />
<text x="206.50" y="524.20" font-size="8.3" text-anchor="end" fill="#222" font-weight="normal" stroke="#222" stroke-width="0.12" >60</text>
<line x1="209.70" y1="501.40" x2="213.10" y2="501.40" stroke="#2a2a2a" stroke-width="1" />
<text x="206.50" y="504.40" font-size="8.3" text-anchor="end" fill="#222" font-weight="normal" stroke="#222" stroke-width="0.12" >70</text>
<line x1="209.70" y1="481.60" x2="213.10" y2="481.60" stroke="#2a2a2a" stroke-width="1" />
<text x="206.50" y="484.60" font-size="8.3" text-anchor="end" fill="#222" font-weight="normal" stroke="#222" stroke-width="0.12" >80</text>
<line x1="209.70" y1="461.80" x2="213.10" y2="461.80" stroke="#2a2a2a" stroke-width="1" />
<text x="206.50" y="464.80" font-size="8.3" text-anchor="end" fill="#222" font-weight="normal" stroke="#222" stroke-width="0.12" >90</text>
<line x1="211.20" y1="511.30" x2="213.10" y2="511.30" stroke="#2a2a2a" stroke-width="1" />
<line x1="211.20" y1="491.50" x2="213.10" y2="491.50" stroke="#2a2a2a" stroke-width="1" />
<line x1="211.20" y1="471.70" x2="213.10" y2="471.70" stroke="#2a2a2a" stroke-width="1" />
<text x="206.50" y="544.10" font-size="8.3" text-anchor="end" fill="#222" font-weight="normal" stroke="#222" stroke-width="0.12" >0</text>
<line x1="210.60" y1="535.80" x2="215.80" y2="532.80" stroke="#2a2a2a" stroke-width="1" />
<line x1="210.60" y1="538.40" x2="215.80" y2="535.40" stroke="#2a2a2a" stroke-width="1" />
<line x1="211.20" y1="531.20" x2="213.10" y2="531.20" stroke="#2a2a2a" stroke-width="1" />
<line x1="225.60" y1="541.10" x2="225.60" y2="544.60" stroke="#2a2a2a" stroke-width="1" />
<line x1="244.35" y1="541.10" x2="244.35" y2="544.60" stroke="#2a2a2a" stroke-width="1" />
<line x1="263.10" y1="541.10" x2="263.10" y2="544.60" stroke="#2a2a2a" stroke-width="1" />
<line x1="281.85" y1="541.10" x2="281.85" y2="544.60" stroke="#2a2a2a" stroke-width="1" />
<line x1="300.60" y1="541.10" x2="300.60" y2="544.60" stroke="#2a2a2a" stroke-width="1" />
<line x1="319.35" y1="541.10" x2="319.35" y2="544.60" stroke="#2a2a2a" stroke-width="1" />
<text x="190.70" y="499.30" font-size="9.6" text-anchor="middle" fill="#222" font-weight="normal" textLength="65.2" lengthAdjust="spacingAndGlyphs" stroke="#222" stroke-width="0.12" transform="rotate(-90 190.7 499.3)">Clotting time (sec)</text>
<text x="272.80" y="452.50" font-size="10.3" text-anchor="middle" fill="#222" font-weight="normal" textLength="51.9" lengthAdjust="spacingAndGlyphs" stroke="#222" stroke-width="0.25" >dilute aPTT</text>
<text x="230.00" y="551.40" font-size="9.0" text-anchor="end" fill="#222" font-weight="normal" textLength="26.9" lengthAdjust="spacingAndGlyphs" stroke="#222" stroke-width="0.12" transform="rotate(-45 230.00 551.40)">Vehicle</text>
<text x="248.75" y="551.40" font-size="9.0" text-anchor="end" fill="#222" font-weight="normal" textLength="34.0" lengthAdjust="spacingAndGlyphs" stroke="#222" stroke-width="0.12" transform="rotate(-45 248.75 551.40)">pdC1INH</text>
<text x="267.50" y="551.40" font-size="9.0" text-anchor="end" fill="#222" font-weight="normal" textLength="13.0" lengthAdjust="spacingAndGlyphs" stroke="#222" stroke-width="0.12" transform="rotate(-45 267.50 551.40)">WT</text>
<text x="286.25" y="551.40" font-size="9.0" text-anchor="end" fill="#222" font-weight="normal" textLength="30.8" lengthAdjust="spacingAndGlyphs" stroke="#222" stroke-width="0.12" transform="rotate(-45 286.25 551.40)">SMTR/S</text>
<text x="305.00" y="551.40" font-size="9.0" text-anchor="end" fill="#222" font-weight="normal" textLength="26.0" lengthAdjust="spacingAndGlyphs" stroke="#222" stroke-width="0.12" transform="rotate(-45 305.00 551.40)">SLLR/S</text>
<text x="323.75" y="551.40" font-size="9.0" text-anchor="end" fill="#222" font-weight="normal" textLength="16.5" lengthAdjust="spacingAndGlyphs" stroke="#222" stroke-width="0.12" transform="rotate(-45 323.75 551.40)">Pitts</text>
<line x1="263.80" y1="577.60" x2="319.85" y2="577.60" stroke="#222" stroke-width="1" />
<text x="291.53" y="588.50" font-size="8.2" text-anchor="middle" fill="#222" font-weight="normal" textLength="20.4" lengthAdjust="spacingAndGlyphs" stroke="#222" stroke-width="0.12" >&#945;1AT</text>
<path d="M221.50 510.70 L223.80 513.00 L221.50 515.30 L219.20 513.00Z" fill="#fff" stroke="#111" stroke-width="0.7"/>
<path d="M224.00 508.20 L226.30 510.50 L224.00 512.80 L221.70 510.50Z" fill="#fff" stroke="#111" stroke-width="0.7"/>
<path d="M227.00 511.20 L229.30 513.50 L227.00 515.80 L224.70 513.50Z" fill="#fff" stroke="#111" stroke-width="0.7"/>
<path d="M229.50 508.70 L231.80 511.00 L229.50 513.30 L227.20 511.00Z" fill="#fff" stroke="#111" stroke-width="0.7"/>
<path d="M231.00 512.20 L233.30 514.50 L231.00 516.80 L228.70 514.50Z" fill="#fff" stroke="#111" stroke-width="0.7"/>
<path d="M227.50 513.70 L229.80 516.00 L227.50 518.30 L225.20 516.00Z" fill="#fff" stroke="#111" stroke-width="0.7"/>
<line x1="220.50" y1="513.00" x2="232.00" y2="513.00" stroke="#111" stroke-width="1" />
<rect x="238.00" y="514.50" width="4" height="4" fill="#E8B820" stroke="#111" stroke-width="0.7"/>
<rect x="240.50" y="512.50" width="4" height="4" fill="#E8B820" stroke="#111" stroke-width="0.7"/>
<rect x="243.00" y="515.50" width="4" height="4" fill="#E8B820" stroke="#111" stroke-width="0.7"/>
<rect x="246.00" y="514.00" width="4" height="4" fill="#E8B820" stroke="#111" stroke-width="0.7"/>
<rect x="247.00" y="510.80" width="4" height="4" fill="#E8B820" stroke="#111" stroke-width="0.7"/>
<rect x="246.50" y="516.50" width="4" height="4" fill="#E8B820" stroke="#111" stroke-width="0.7"/>
<line x1="238.50" y1="516.00" x2="251.00" y2="516.00" stroke="#111" stroke-width="1" />
<circle cx="258.50" cy="512.50" r="2.0" fill="#2E6B4C" stroke="#111" stroke-width="0.7"/>
<circle cx="261.00" cy="511.50" r="2.0" fill="#2E6B4C" stroke="#111" stroke-width="0.7"/>
<circle cx="263.50" cy="513.50" r="2.0" fill="#2E6B4C" stroke="#111" stroke-width="0.7"/>
<circle cx="266.50" cy="510.50" r="2.0" fill="#2E6B4C" stroke="#111" stroke-width="0.7"/>
<circle cx="267.00" cy="514.50" r="2.0" fill="#2E6B4C" stroke="#111" stroke-width="0.7"/>
<circle cx="264.00" cy="512.00" r="2.0" fill="#2E6B4C" stroke="#111" stroke-width="0.7"/>
<line x1="257.00" y1="512.70" x2="269.00" y2="512.70" stroke="#111" stroke-width="1" />
<circle cx="277.20" cy="479.80" r="2.0" fill="#E8961E" stroke="#111" stroke-width="0.7"/>
<circle cx="283.30" cy="478.70" r="2.0" fill="#E8961E" stroke="#111" stroke-width="0.7"/>
<circle cx="277.20" cy="485.20" r="2.0" fill="#E8961E" stroke="#111" stroke-width="0.7"/>
<circle cx="281.50" cy="482.70" r="2.0" fill="#E8961E" stroke="#111" stroke-width="0.7"/>
<circle cx="284.00" cy="483.30" r="2.0" fill="#E8961E" stroke="#111" stroke-width="0.7"/>
<circle cx="286.40" cy="483.30" r="2.0" fill="#E8961E" stroke="#111" stroke-width="0.7"/>
<line x1="276.00" y1="482.20" x2="288.00" y2="482.20" stroke="#111" stroke-width="1" />
<circle cx="296.00" cy="483.60" r="2.0" fill="#5A2570" stroke="#111" stroke-width="0.7"/>
<circle cx="301.70" cy="480.40" r="2.0" fill="#5A2570" stroke="#111" stroke-width="0.7"/>
<circle cx="301.70" cy="485.60" r="2.0" fill="#5A2570" stroke="#111" stroke-width="0.7"/>
<circle cx="298.80" cy="488.50" r="2.0" fill="#5A2570" stroke="#111" stroke-width="0.7"/>
<circle cx="304.60" cy="483.60" r="2.0" fill="#5A2570" stroke="#111" stroke-width="0.7"/>
<circle cx="300.00" cy="483.60" r="2.0" fill="#5A2570" stroke="#111" stroke-width="0.7"/>
<line x1="295.00" y1="483.90" x2="306.50" y2="483.90" stroke="#111" stroke-width="1" />
<circle cx="314.80" cy="472.00" r="2.0" fill="#C0102E" stroke="#111" stroke-width="0.7"/>
<circle cx="320.50" cy="471.20" r="2.0" fill="#C0102E" stroke="#111" stroke-width="0.7"/>
<circle cx="314.80" cy="478.00" r="2.0" fill="#C0102E" stroke="#111" stroke-width="0.7"/>
<circle cx="320.80" cy="476.30" r="2.0" fill="#C0102E" stroke="#111" stroke-width="0.7"/>
<circle cx="323.70" cy="475.50" r="2.0" fill="#C0102E" stroke="#111" stroke-width="0.7"/>
<circle cx="317.90" cy="474.60" r="2.0" fill="#C0102E" stroke="#111" stroke-width="0.7"/>
<line x1="313.50" y1="474.70" x2="325.50" y2="474.70" stroke="#111" stroke-width="1" />
<text x="281.50" y="474.32" font-size="9.2" text-anchor="middle" fill="#222" font-weight="normal" >&#167;</text>
<text x="300.20" y="475.42" font-size="9.2" text-anchor="middle" fill="#222" font-weight="normal" >&#167;</text>
<text x="319.00" y="466.82" font-size="9.2" text-anchor="middle" fill="#222" font-weight="normal" >&#167;</text>
<line x1="383.60" y1="460.10" x2="383.60" y2="541.60" stroke="#2a2a2a" stroke-width="1.5" />
<line x1="382.85" y1="540.90" x2="503.50" y2="540.90" stroke="#2a2a2a" stroke-width="1.5" />
<line x1="380.20" y1="540.90" x2="383.60" y2="540.90" stroke="#2a2a2a" stroke-width="1" />
<text x="377.20" y="543.90" font-size="8.3" text-anchor="end" fill="#222" font-weight="normal" stroke="#222" stroke-width="0.12" >0</text>
<line x1="380.20" y1="514.70" x2="383.60" y2="514.70" stroke="#2a2a2a" stroke-width="1" />
<text x="377.20" y="517.70" font-size="8.3" text-anchor="end" fill="#222" font-weight="normal" stroke="#222" stroke-width="0.12" >50</text>
<line x1="380.20" y1="488.50" x2="383.60" y2="488.50" stroke="#2a2a2a" stroke-width="1" />
<text x="377.20" y="491.50" font-size="8.3" text-anchor="end" fill="#222" font-weight="normal" stroke="#222" stroke-width="0.12" >100</text>
<line x1="380.20" y1="462.30" x2="383.60" y2="462.30" stroke="#2a2a2a" stroke-width="1" />
<text x="377.20" y="465.30" font-size="8.3" text-anchor="end" fill="#222" font-weight="normal" stroke="#222" stroke-width="0.12" >150</text>
<line x1="381.70" y1="527.80" x2="383.60" y2="527.80" stroke="#2a2a2a" stroke-width="1" />
<line x1="381.70" y1="501.60" x2="383.60" y2="501.60" stroke="#2a2a2a" stroke-width="1" />
<line x1="381.70" y1="475.40" x2="383.60" y2="475.40" stroke="#2a2a2a" stroke-width="1" />
<line x1="383.50" y1="540.90" x2="383.50" y2="544.50" stroke="#2a2a2a" stroke-width="1" />
<text x="383.50" y="555.00" font-size="8.3" text-anchor="middle" fill="#222" font-weight="normal" stroke="#222" stroke-width="0.12" >0</text>
<line x1="423.10" y1="540.90" x2="423.10" y2="544.50" stroke="#2a2a2a" stroke-width="1" />
<text x="423.10" y="555.00" font-size="8.3" text-anchor="middle" fill="#222" font-weight="normal" stroke="#222" stroke-width="0.12" >10</text>
<line x1="462.70" y1="540.90" x2="462.70" y2="544.50" stroke="#2a2a2a" stroke-width="1" />
<text x="462.70" y="555.00" font-size="8.3" text-anchor="middle" fill="#222" font-weight="normal" stroke="#222" stroke-width="0.12" >20</text>
<line x1="502.30" y1="540.90" x2="502.30" y2="544.50" stroke="#2a2a2a" stroke-width="1" />
<text x="502.30" y="555.00" font-size="8.3" text-anchor="middle" fill="#222" font-weight="normal" stroke="#222" stroke-width="0.12" >30</text>
<line x1="403.30" y1="540.90" x2="403.30" y2="542.80" stroke="#2a2a2a" stroke-width="1" />
<line x1="442.90" y1="540.90" x2="442.90" y2="542.80" stroke="#2a2a2a" stroke-width="1" />
<line x1="482.50" y1="540.90" x2="482.50" y2="542.80" stroke="#2a2a2a" stroke-width="1" />
<text x="356.50" y="499.70" font-size="9.6" text-anchor="middle" fill="#222" font-weight="normal" textLength="53.4" lengthAdjust="spacingAndGlyphs" stroke="#222" stroke-width="0.12" transform="rotate(-90 356.5 499.7)">Thrombin (nM)</text>
<text x="445.00" y="568.00" font-size="9.0" text-anchor="middle" fill="#222" font-weight="normal" textLength="39.6" lengthAdjust="spacingAndGlyphs" stroke="#222" stroke-width="0.12" >Time (min)</text>
<text x="444.60" y="453.30" font-size="10.3" text-anchor="middle" fill="#222" font-weight="normal" textLength="76.9" lengthAdjust="spacingAndGlyphs" stroke="#222" stroke-width="0.25" >Kaolin-driven TG</text>
<path d="M400.53 540.90 C400.99 540.64 401.98 541.95 403.30 539.33 C404.62 536.71 406.93 530.25 408.45 525.18 C409.97 520.11 411.29 513.65 412.41 508.94 C413.53 504.22 414.06 501.60 415.18 496.88 C416.30 492.17 417.92 484.40 419.14 480.64 C420.36 476.88 421.38 474.79 422.51 474.35 C423.63 473.92 424.45 475.40 425.87 478.02 C427.29 480.64 429.50 486.23 431.02 490.07 C432.54 493.91 433.33 496.97 434.98 501.08 C436.63 505.18 438.94 510.86 440.92 514.70 C442.90 518.54 444.55 521.25 446.86 524.13 C449.17 527.01 452.14 530.07 454.78 531.99 C457.42 533.91 460.06 534.61 462.70 535.66 C465.34 536.71 467.32 537.58 470.62 538.28 C473.92 538.98 477.22 539.42 482.50 539.85 C487.78 540.29 499.00 540.73 502.30 540.90" fill="none" stroke="#c9c9c9" stroke-width="1.3"/>
<path d="M401.32 540.90 C401.78 540.64 402.90 541.77 404.09 539.33 C405.28 536.88 407.06 531.03 408.45 526.23 C409.83 521.42 411.29 515.05 412.41 510.51 C413.53 505.97 414.06 503.35 415.18 498.98 C416.30 494.61 417.92 487.80 419.14 484.31 C420.36 480.81 421.38 478.54 422.51 478.02 C423.63 477.50 424.45 478.72 425.87 481.16 C427.29 483.61 429.50 489.02 431.02 492.69 C432.54 496.36 433.33 499.24 434.98 503.17 C436.63 507.10 438.94 512.60 440.92 516.27 C442.90 519.94 444.55 522.47 446.86 525.18 C449.17 527.89 452.14 530.68 454.78 532.52 C457.42 534.35 460.06 535.22 462.70 536.18 C465.34 537.14 467.32 537.67 470.62 538.28 C473.92 538.89 477.22 539.42 482.50 539.85 C487.78 540.29 499.00 540.73 502.30 540.90" fill="none" stroke="#F2C21E" stroke-width="1.3"/>
<path d="M401.32 540.90 C401.78 540.64 402.90 541.77 404.09 539.33 C405.28 536.88 407.06 531.03 408.45 526.23 C409.83 521.42 411.29 515.22 412.41 510.51 C413.53 505.79 414.06 502.65 415.18 497.93 C416.30 493.22 417.56 486.14 419.14 482.21 C420.72 478.28 423.03 474.88 424.68 474.35 C426.33 473.83 427.29 475.49 429.04 479.07 C430.79 482.65 433.03 489.72 435.18 495.84 C437.32 501.95 439.96 511.12 441.91 515.75 C443.86 520.38 444.85 521.16 446.86 523.61 C448.87 526.05 451.35 528.50 453.99 530.42 C456.63 532.34 459.93 533.91 462.70 535.14 C465.47 536.36 467.32 536.97 470.62 537.76 C473.92 538.54 477.22 539.33 482.50 539.85 C487.78 540.38 499.00 540.73 502.30 540.90" fill="none" stroke="#2E6B52" stroke-width="1.3"/>
<path d="M407.26 540.90 C407.92 540.59 409.90 540.03 411.22 539.07 C412.54 538.11 414.26 536.19 415.18 535.14 C416.10 534.08 416.10 533.86 416.76 532.73 C417.42 531.59 418.18 530.41 419.14 528.32 C420.10 526.24 421.25 523.65 422.51 520.20 C423.76 516.75 425.25 511.25 426.66 507.63 C428.08 504.00 429.63 500.73 431.02 498.46 C432.41 496.19 433.73 494.93 434.98 494.00 C436.23 493.08 437.22 492.68 438.54 492.90 C439.86 493.12 441.51 494.04 442.90 495.31 C444.29 496.59 444.85 497.84 446.86 500.55 C448.87 503.26 452.34 507.98 454.98 511.56 C457.62 515.14 460.09 518.89 462.70 522.04 C465.31 525.18 467.32 527.89 470.62 530.42 C473.92 532.95 478.54 535.66 482.50 537.23 C486.46 538.80 491.08 539.27 494.38 539.85 C497.68 540.44 500.98 540.59 502.30 540.74" fill="none" stroke="#E59A2A" stroke-width="1.3"/>
<path d="M407.26 540.90 C407.92 540.62 409.90 540.10 411.22 539.22 C412.54 538.34 414.26 536.58 415.18 535.61 C416.10 534.65 416.10 534.45 416.76 533.40 C417.42 532.36 418.18 531.28 419.14 529.37 C420.10 527.45 421.25 525.08 422.51 521.92 C423.76 518.76 425.25 513.71 426.66 510.39 C428.08 507.06 429.63 504.06 431.02 501.98 C432.41 499.90 433.73 498.74 434.98 497.89 C436.23 497.05 437.22 496.69 438.54 496.89 C439.86 497.09 441.51 497.93 442.90 499.10 C444.29 500.27 444.85 501.42 446.86 503.90 C448.87 506.38 452.34 510.71 454.98 513.99 C457.62 517.28 460.09 520.72 462.70 523.60 C465.31 526.48 467.32 528.97 470.62 531.29 C473.92 533.61 478.54 536.09 482.50 537.54 C486.46 538.98 491.08 539.40 494.38 539.94 C497.68 540.48 500.98 540.62 502.30 540.76" fill="none" stroke="#6A3A8A" stroke-width="1.3"/>
<path d="M407.26 540.90 C407.92 540.65 409.90 540.20 411.22 539.42 C412.54 538.65 414.26 537.11 415.18 536.26 C416.10 535.41 416.10 535.23 416.76 534.32 C417.42 533.41 418.18 532.46 419.14 530.78 C420.10 529.10 421.25 527.02 422.51 524.24 C423.76 521.46 425.25 517.03 426.66 514.11 C428.08 511.20 429.63 508.56 431.02 506.73 C432.41 504.90 433.73 503.89 434.98 503.15 C436.23 502.40 437.22 502.09 438.54 502.26 C439.86 502.44 441.51 503.18 442.90 504.20 C444.29 505.23 444.85 506.24 446.86 508.42 C448.87 510.60 452.34 514.40 454.98 517.28 C457.62 520.16 460.09 523.18 462.70 525.71 C465.31 528.25 467.32 530.42 470.62 532.46 C473.92 534.50 478.54 536.68 482.50 537.95 C486.46 539.21 491.08 539.59 494.38 540.06 C497.68 540.53 500.98 540.65 502.30 540.77" fill="none" stroke="#C8284E" stroke-width="1.3"/>
<line x1="465.80" y1="464.60" x2="475.60" y2="464.60" stroke="#d4d4d4" stroke-width="1.5" />
<text x="478.90" y="467.70" font-size="8.6" text-anchor="start" fill="#222" font-weight="normal" textLength="24.8" lengthAdjust="spacingAndGlyphs" stroke="#222" stroke-width="0.12" >Vehicle</text>
<line x1="465.80" y1="474.60" x2="475.60" y2="474.60" stroke="#F4CF4A" stroke-width="1.5" />
<text x="478.90" y="477.70" font-size="8.6" text-anchor="start" fill="#222" font-weight="normal" textLength="33.3" lengthAdjust="spacingAndGlyphs" stroke="#222" stroke-width="0.12" >pdC1INH</text>
<line x1="465.80" y1="484.60" x2="475.60" y2="484.60" stroke="#3F7F62" stroke-width="1.5" />
<text x="478.90" y="487.70" font-size="8.6" text-anchor="start" fill="#222" font-weight="normal" textLength="11.6" lengthAdjust="spacingAndGlyphs" stroke="#222" stroke-width="0.12" >WT</text>
<line x1="465.80" y1="494.60" x2="475.60" y2="494.60" stroke="#EEA23A" stroke-width="1.5" />
<text x="478.90" y="497.70" font-size="8.6" text-anchor="start" fill="#222" font-weight="normal" textLength="28.0" lengthAdjust="spacingAndGlyphs" stroke="#222" stroke-width="0.12" >SMTR/S</text>
<line x1="465.80" y1="504.80" x2="475.60" y2="504.80" stroke="#7A4C9C" stroke-width="1.5" />
<text x="478.90" y="507.90" font-size="8.6" text-anchor="start" fill="#222" font-weight="normal" textLength="24.4" lengthAdjust="spacingAndGlyphs" stroke="#222" stroke-width="0.12" >SLLR/S</text>
<line x1="465.80" y1="514.80" x2="475.60" y2="514.80" stroke="#D24A6C" stroke-width="1.5" />
<text x="478.90" y="517.90" font-size="8.6" text-anchor="start" fill="#222" font-weight="normal" textLength="14.8" lengthAdjust="spacingAndGlyphs" stroke="#222" stroke-width="0.12" >Pitts</text>
<text x="0" y="0" font-size="12.4" font-weight="bold" fill="#000" stroke="#000" stroke-width="0.35" transform="translate(8.3 28.9) scale(1.1 1)">A</text>
<text x="0" y="0" font-size="12.4" font-weight="bold" fill="#000" stroke="#000" stroke-width="0.35" transform="translate(9.3 230.9) scale(1.1 1)">B</text>
<text x="0" y="0" font-size="12.4" font-weight="bold" fill="#000" stroke="#000" stroke-width="0.35" transform="translate(178.9 230.9) scale(1.1 1)">C</text>
<text x="0" y="0" font-size="12.4" font-weight="bold" fill="#000" stroke="#000" stroke-width="0.35" transform="translate(349.2 230.9) scale(1.1 1)">D</text>
<text x="0" y="0" font-size="12.4" font-weight="bold" fill="#000" stroke="#000" stroke-width="0.35" transform="translate(9.0 425.1) scale(1.1 1)">E</text>
<text x="0" y="0" font-size="12.4" font-weight="bold" fill="#000" stroke="#000" stroke-width="0.35" transform="translate(180.2 424.9) scale(1.1 1)">F</text>
<text x="0" y="0" font-size="12.4" font-weight="bold" fill="#000" stroke="#000" stroke-width="0.35" transform="translate(348.7 425.1) scale(1.1 1)">G</text>
<path d="M140.78 96.25 A35.2 35.2 0 1 1 153.31 96.42" fill="none" stroke="#1e1e1e" stroke-width="8.6" stroke-linecap="round"/>
<path d="M47.2 94.7 L139.5 94.7" fill="none" stroke="#1e1e1e" stroke-width="7.9" stroke-linecap="round"/>
<path d="M140.78 96.25 A35.2 35.2 0 1 1 153.31 96.42" fill="none" stroke="#f0f0f0" stroke-width="6.6" stroke-linecap="round"/>
<path d="M47.2 94.7 L139.5 94.7" fill="none" stroke="#f0f0f0" stroke-width="5.9" stroke-linecap="round"/>
<path d="M133.5 90.2 L141.0 85.6 M144.4 85.4 L149.8 85.4 M153.2 85.6 L161.2 90" stroke="#222" stroke-width="0.8" fill="none"/>
<text x="142.70" y="87.40" font-size="5.0" text-anchor="middle" fill="#222" font-weight="normal" stroke="#222" stroke-width="0.12" >S</text>
<text x="151.50" y="87.40" font-size="5.0" text-anchor="middle" fill="#222" font-weight="normal" stroke="#222" stroke-width="0.12" >S</text>
<text x="107.20" y="107.80" font-size="7.4" text-anchor="middle" fill="#2a2a2a" font-weight="normal" textLength="29.6" lengthAdjust="spacingAndGlyphs" stroke="#2a2a2a" stroke-width="0.15">Factor XII</text>
<defs>
<path id="rin" d="M119.87 77.65 A31.9 31.9 0 0 1 163.45 34.07"/>
<path id="rout" d="M112.08 82.15 A40.9 40.9 0 0 1 167.95 26.28"/>
<linearGradient id="gband" x1="0" y1="0" x2="1" y2="1"><stop offset="0" stop-color="#e4e8e8"/><stop offset="1" stop-color="#5f7670"/></linearGradient>
</defs>
<text font-size="8.0" font-weight="bold" fill="#111" stroke="#111" stroke-width="0.2"><textPath href="#rin" startOffset="6.12" textLength="22" lengthAdjust="spacingAndGlyphs">SMTR</textPath></text>
<text font-size="6.8" fill="#222"><textPath href="#rout" startOffset="8.57" textLength="32.5" lengthAdjust="spacingAndGlyphs">P4 P3 P2 P1</textPath></text>
<text font-size="6.0" fill="#222"><textPath href="#rout" startOffset="54.25">P1'</textPath></text>
<text font-size="7.2" font-weight="bold" fill="#111"><textPath href="#rin" startOffset="41.76">V</textPath></text>
<text x="128.60" y="49.00" font-size="7.3" text-anchor="middle" fill="#C0284A" font-weight="normal" textLength="11.6" lengthAdjust="spacingAndGlyphs" stroke="#C0284A" stroke-width="0.12" >353</text>
<g transform="translate(117.0 39.9) rotate(-40) scale(1.0)" fill="none"><circle cx="-2.1" cy="-3.9" r="1.95" stroke="#DA6F8A" stroke-width="0.8"/><circle cx="2.1" cy="-3.9" r="1.95" stroke="#DA6F8A" stroke-width="0.8"/><path d="M-0.9 -2.0 L3.0 6.2 M0.9 -2.0 L-3.0 6.2" stroke="#A8153A" stroke-width="1.35"/></g>
<path d="M192.1 54.8 Q210 52.4 231.8 56.6" fill="none" stroke="#333" stroke-width="0.9"/>
<path d="M326.4 57.6 Q350 51.6 372.2 54.9" fill="none" stroke="#333" stroke-width="0.9"/>
<path d="M231.6 56.2 Q255 55.2 278.2 56.2 L275.6 69.2 Q255 68.4 234.4 69.2 Z" fill="#D98A1A"/>
<path d="M283.6 56.4 Q305 55.4 326.6 56.4 L323.4 70.2 Q305 69.2 286.4 70.2 Z" fill="#55205E"/>
<text x="255.10" y="66.40" font-size="11.6" text-anchor="middle" fill="#fff" font-weight="bold" textLength="37.0" lengthAdjust="spacingAndGlyphs" stroke="#fff" stroke-width="0.12" >SMTR</text>
<text x="304.90" y="66.40" font-size="11.6" text-anchor="middle" fill="#fff" font-weight="bold" textLength="32.8" lengthAdjust="spacingAndGlyphs" stroke="#fff" stroke-width="0.12" >SLLR</text>
<text x="254.30" y="54.00" font-size="6.6" text-anchor="middle" fill="#333" font-weight="normal" textLength="35.4" lengthAdjust="spacingAndGlyphs" stroke="#333" stroke-width="0.12" >P4 P3 P2 P1</text>
<text x="304.10" y="54.00" font-size="6.6" text-anchor="middle" fill="#333" font-weight="normal" textLength="35.6" lengthAdjust="spacingAndGlyphs" stroke="#333" stroke-width="0.12" >P4 P3 P2 P1</text>
<path d="M246 88.2 L255.1 88.2 Q258.8 98 265 105 L260.3 112 Q249 103 246 88.2 Z" fill="url(#gband)"/>
<text x="0" y="0" font-size="6.7" fill="#222" transform="translate(258.6 116.2) rotate(-118.4)" textLength="34" lengthAdjust="spacingAndGlyphs">P4 P3 P2 P1</text>
<ellipse cx="282.8" cy="152.9" rx="33.8" ry="38.6" fill="#2F5F4A"/>
<path d="M259.8 158 L259.8 150.5 A23.1 24.5 0 0 1 306 150.5 L306 158 Z" fill="#fff"/>
<defs><clipPath id="ell"><ellipse cx="282.8" cy="152.9" rx="33.8" ry="38.6"/></clipPath></defs>
<path clip-path="url(#ell)" d="M248 143.2 Q282.9 168.6 318 143.9 L321 200 L245 200 Z" fill="#648A75"/>
<path d="M266 119.2 L271.4 126.4 A25 26.5 0 0 1 294.2 126.4 L299.4 119.6 L300 113.5 L265 113.5 Z" fill="#fff"/>
<path d="M256.2 69.5 C268 84 274.5 96 274.6 113.5" fill="none" stroke="#111" stroke-width="1.0"/>
<path d="M306 69.5 C296 82 290 96 289.8 113" fill="none" stroke="#111" stroke-width="1.0"/>
<path d="M271.9 112.6 L277.3 112.6 L274.6 118.6 Z" fill="#111"/>
<path d="M287.1 112.3 L292.5 112.3 L289.8 118.2 Z" fill="#111"/>
<text x="283.00" y="132.60" font-size="7.4" text-anchor="middle" fill="#41795E" font-weight="normal" textLength="13.4" lengthAdjust="spacingAndGlyphs" stroke="#41795E" stroke-width="0.25">RCL</text>
<text x="0" y="0" font-size="9.4" font-weight="bold" fill="#fff" transform="translate(296.4 128.6) rotate(36)">S</text>
<text x="0" y="0" font-size="6.6" fill="#333" transform="translate(303.2 120.6) rotate(36)">P1'</text>
<g transform="translate(294.0 121.0) rotate(30) scale(0.92)" fill="none"><circle cx="-2.1" cy="-3.9" r="1.95" stroke="#DA6F8A" stroke-width="0.8"/><circle cx="2.1" cy="-3.9" r="1.95" stroke="#DA6F8A" stroke-width="0.8"/><path d="M-0.9 -2.0 L3.0 6.2 M0.9 -2.0 L-3.0 6.2" stroke="#A8153A" stroke-width="1.35"/></g>
<text x="282.4" y="202.3" font-size="7.7" text-anchor="middle" fill="#222" stroke="#222" stroke-width="0.1" textLength="48.4" lengthAdjust="spacingAndGlyphs">&#945;1-antitrypsin</text>
<g shape-rendering="crispEdges">
<rect x="385.20" y="19.10" width="6.51" height="6.45" fill="rgb(232, 170, 110)"/>
<rect x="391.41" y="19.10" width="6.51" height="6.45" fill="rgb(225, 195, 130)"/>
<rect x="397.62" y="19.10" width="6.51" height="6.45" fill="rgb(215, 100, 80)"/>
<rect x="403.82" y="19.10" width="6.51" height="6.45" fill="rgb(240, 200, 110)"/>
<rect x="410.03" y="19.10" width="6.51" height="6.45" fill="rgb(170, 180, 100)"/>
<rect x="416.24" y="19.10" width="6.51" height="6.45" fill="rgb(230, 160, 100)"/>
<rect x="422.45" y="19.10" width="6.51" height="6.45" fill="rgb(235, 170, 110)"/>
<rect x="428.65" y="19.10" width="6.51" height="6.45" fill="rgb(195, 110, 90)"/>
<rect x="434.86" y="19.10" width="6.51" height="6.45" fill="rgb(230, 150, 110)"/>
<rect x="441.07" y="19.10" width="6.51" height="6.45" fill="rgb(245, 205, 120)"/>
<rect x="447.28" y="19.10" width="6.51" height="6.45" fill="rgb(220, 200, 130)"/>
<rect x="453.48" y="19.10" width="6.51" height="6.45" fill="rgb(210, 195, 110)"/>
<rect x="459.69" y="19.10" width="6.51" height="6.45" fill="rgb(230, 140, 90)"/>
<rect x="385.20" y="25.25" width="6.51" height="6.45" fill="rgb(215, 200, 130)"/>
<rect x="391.41" y="25.25" width="6.51" height="6.45" fill="rgb(200, 215, 150)"/>
<rect x="397.62" y="25.25" width="6.51" height="6.45" fill="rgb(200, 130, 100)"/>
<rect x="403.82" y="25.25" width="6.51" height="6.45" fill="rgb(220, 220, 130)"/>
<rect x="410.03" y="25.25" width="6.51" height="6.45" fill="rgb(140, 190, 90)"/>
<rect x="416.24" y="25.25" width="6.51" height="6.45" fill="rgb(215, 180, 120)"/>
<rect x="422.45" y="25.25" width="6.51" height="6.45" fill="rgb(215, 195, 130)"/>
<rect x="428.65" y="25.25" width="6.51" height="6.45" fill="rgb(170, 130, 100)"/>
<rect x="434.86" y="25.25" width="6.51" height="6.45" fill="rgb(210, 170, 120)"/>
<rect x="441.07" y="25.25" width="6.51" height="6.45" fill="rgb(220, 225, 130)"/>
<rect x="447.28" y="25.25" width="6.51" height="6.45" fill="rgb(190, 210, 140)"/>
<rect x="453.48" y="25.25" width="6.51" height="6.45" fill="rgb(180, 205, 120)"/>
<rect x="459.69" y="25.25" width="6.51" height="6.45" fill="rgb(210, 170, 110)"/>
<rect x="385.20" y="31.39" width="6.51" height="6.45" fill="rgb(210, 80, 70)"/>
<rect x="391.41" y="31.39" width="6.51" height="6.45" fill="rgb(200, 110, 90)"/>
<rect x="397.62" y="31.39" width="6.51" height="6.45" fill="rgb(205, 25, 35)"/>
<rect x="403.82" y="31.39" width="6.51" height="6.45" fill="rgb(225, 120, 70)"/>
<rect x="410.03" y="31.39" width="6.51" height="6.45" fill="rgb(150, 100, 70)"/>
<rect x="416.24" y="31.39" width="6.51" height="6.45" fill="rgb(215, 70, 60)"/>
<rect x="422.45" y="31.39" width="6.51" height="6.45" fill="rgb(215, 80, 60)"/>
<rect x="428.65" y="31.39" width="6.51" height="6.45" fill="rgb(190, 20, 30)"/>
<rect x="434.86" y="31.39" width="6.51" height="6.45" fill="rgb(210, 60, 55)"/>
<rect x="441.07" y="31.39" width="6.51" height="6.45" fill="rgb(225, 120, 70)"/>
<rect x="447.28" y="31.39" width="6.51" height="6.45" fill="rgb(200, 110, 80)"/>
<rect x="453.48" y="31.39" width="6.51" height="6.45" fill="rgb(180, 100, 60)"/>
<rect x="459.69" y="31.39" width="6.51" height="6.45" fill="rgb(210, 50, 40)"/>
<rect x="385.20" y="37.54" width="6.51" height="6.45" fill="rgb(245, 215, 100)"/>
<rect x="391.41" y="37.54" width="6.51" height="6.45" fill="rgb(225, 220, 120)"/>
<rect x="397.62" y="37.54" width="6.51" height="6.45" fill="rgb(230, 150, 80)"/>
<rect x="403.82" y="37.54" width="6.51" height="6.45" fill="rgb(250, 230, 90)"/>
<rect x="410.03" y="37.54" width="6.51" height="6.45" fill="rgb(180, 195, 90)"/>
<rect x="416.24" y="37.54" width="6.51" height="6.45" fill="rgb(150, 200, 90)"/>
<rect x="422.45" y="37.54" width="6.51" height="6.45" fill="rgb(130, 190, 90)"/>
<rect x="428.65" y="37.54" width="6.51" height="6.45" fill="rgb(210, 140, 80)"/>
<rect x="434.86" y="37.54" width="6.51" height="6.45" fill="rgb(235, 170, 90)"/>
<rect x="441.07" y="37.54" width="6.51" height="6.45" fill="rgb(250, 235, 100)"/>
<rect x="447.28" y="37.54" width="6.51" height="6.45" fill="rgb(225, 225, 110)"/>
<rect x="453.48" y="37.54" width="6.51" height="6.45" fill="rgb(210, 215, 100)"/>
<rect x="459.69" y="37.54" width="6.51" height="6.45" fill="rgb(235, 170, 80)"/>
<rect x="385.20" y="43.68" width="6.51" height="6.45" fill="rgb(150, 180, 90)"/>
<rect x="391.41" y="43.68" width="6.51" height="6.45" fill="rgb(140, 180, 90)"/>
<rect x="397.62" y="43.68" width="6.51" height="6.45" fill="rgb(140, 110, 60)"/>
<rect x="403.82" y="43.68" width="6.51" height="6.45" fill="rgb(150, 185, 80)"/>
<rect x="410.03" y="43.68" width="6.51" height="6.45" fill="rgb(110, 170, 70)"/>
<rect x="416.24" y="43.68" width="6.51" height="6.45" fill="rgb(150, 170, 80)"/>
<rect x="422.45" y="43.68" width="6.51" height="6.45" fill="rgb(130, 180, 80)"/>
<rect x="428.65" y="43.68" width="6.51" height="6.45" fill="rgb(100, 110, 60)"/>
<rect x="434.86" y="43.68" width="6.51" height="6.45" fill="rgb(140, 150, 80)"/>
<rect x="441.07" y="43.68" width="6.51" height="6.45" fill="rgb(160, 190, 80)"/>
<rect x="447.28" y="43.68" width="6.51" height="6.45" fill="rgb(120, 190, 90)"/>
<rect x="453.48" y="43.68" width="6.51" height="6.45" fill="rgb(130, 185, 80)"/>
<rect x="459.69" y="43.68" width="6.51" height="6.45" fill="rgb(140, 150, 80)"/>
<rect x="385.20" y="49.83" width="6.51" height="6.45" fill="rgb(230, 150, 90)"/>
<rect x="391.41" y="49.83" width="6.51" height="6.45" fill="rgb(220, 170, 110)"/>
<rect x="397.62" y="49.83" width="6.51" height="6.45" fill="rgb(210, 80, 60)"/>
<rect x="403.82" y="49.83" width="6.51" height="6.45" fill="rgb(235, 175, 90)"/>
<rect x="410.03" y="49.83" width="6.51" height="6.45" fill="rgb(180, 170, 90)"/>
<rect x="416.24" y="49.83" width="6.51" height="6.45" fill="rgb(225, 130, 80)"/>
<rect x="422.45" y="49.83" width="6.51" height="6.45" fill="rgb(225, 150, 90)"/>
<rect x="428.65" y="49.83" width="6.51" height="6.45" fill="rgb(195, 80, 60)"/>
<rect x="434.86" y="49.83" width="6.51" height="6.45" fill="rgb(220, 120, 80)"/>
<rect x="441.07" y="49.83" width="6.51" height="6.45" fill="rgb(200, 205, 100)"/>
<rect x="447.28" y="49.83" width="6.51" height="6.45" fill="rgb(215, 175, 110)"/>
<rect x="453.48" y="49.83" width="6.51" height="6.45" fill="rgb(200, 170, 90)"/>
<rect x="459.69" y="49.83" width="6.51" height="6.45" fill="rgb(225, 120, 70)"/>
<rect x="385.20" y="55.98" width="6.51" height="6.45" fill="rgb(235, 170, 100)"/>
<rect x="391.41" y="55.98" width="6.51" height="6.45" fill="rgb(225, 190, 120)"/>
<rect x="397.62" y="55.98" width="6.51" height="6.45" fill="rgb(220, 100, 70)"/>
<rect x="403.82" y="55.98" width="6.51" height="6.45" fill="rgb(245, 200, 100)"/>
<rect x="410.03" y="55.98" width="6.51" height="6.45" fill="rgb(175, 175, 95)"/>
<rect x="416.24" y="55.98" width="6.51" height="6.45" fill="rgb(230, 150, 95)"/>
<rect x="422.45" y="55.98" width="6.51" height="6.45" fill="rgb(230, 160, 95)"/>
<rect x="428.65" y="55.98" width="6.51" height="6.45" fill="rgb(200, 100, 70)"/>
<rect x="434.86" y="55.98" width="6.51" height="6.45" fill="rgb(225, 140, 90)"/>
<rect x="441.07" y="55.98" width="6.51" height="6.45" fill="rgb(200, 205, 100)"/>
<rect x="447.28" y="55.98" width="6.51" height="6.45" fill="rgb(215, 190, 110)"/>
<rect x="453.48" y="55.98" width="6.51" height="6.45" fill="rgb(205, 190, 100)"/>
<rect x="459.69" y="55.98" width="6.51" height="6.45" fill="rgb(225, 140, 80)"/>
<rect x="385.20" y="62.12" width="6.51" height="6.45" fill="rgb(185, 75, 60)"/>
<rect x="391.41" y="62.12" width="6.51" height="6.45" fill="rgb(175, 100, 80)"/>
<rect x="397.62" y="62.12" width="6.51" height="6.45" fill="rgb(190, 20, 35)"/>
<rect x="403.82" y="62.12" width="6.51" height="6.45" fill="rgb(185, 110, 70)"/>
<rect x="410.03" y="62.12" width="6.51" height="6.45" fill="rgb(110, 90, 60)"/>
<rect x="416.24" y="62.12" width="6.51" height="6.45" fill="rgb(190, 70, 50)"/>
<rect x="422.45" y="62.12" width="6.51" height="6.45" fill="rgb(185, 70, 50)"/>
<rect x="428.65" y="62.12" width="6.51" height="6.45" fill="rgb(150, 15, 25)"/>
<rect x="434.86" y="62.12" width="6.51" height="6.45" fill="rgb(180, 50, 50)"/>
<rect x="441.07" y="62.12" width="6.51" height="6.45" fill="rgb(195, 110, 60)"/>
<rect x="447.28" y="62.12" width="6.51" height="6.45" fill="rgb(160, 100, 70)"/>
<rect x="453.48" y="62.12" width="6.51" height="6.45" fill="rgb(150, 100, 50)"/>
<rect x="459.69" y="62.12" width="6.51" height="6.45" fill="rgb(180, 50, 30)"/>
<rect x="385.20" y="68.27" width="6.51" height="6.45" fill="rgb(225, 120, 90)"/>
<rect x="391.41" y="68.27" width="6.51" height="6.45" fill="rgb(215, 150, 110)"/>
<rect x="397.62" y="68.27" width="6.51" height="6.45" fill="rgb(205, 60, 60)"/>
<rect x="403.82" y="68.27" width="6.51" height="6.45" fill="rgb(230, 150, 90)"/>
<rect x="410.03" y="68.27" width="6.51" height="6.45" fill="rgb(160, 140, 90)"/>
<rect x="416.24" y="68.27" width="6.51" height="6.45" fill="rgb(220, 110, 80)"/>
<rect x="422.45" y="68.27" width="6.51" height="6.45" fill="rgb(225, 120, 80)"/>
<rect x="428.65" y="68.27" width="6.51" height="6.45" fill="rgb(190, 50, 50)"/>
<rect x="434.86" y="68.27" width="6.51" height="6.45" fill="rgb(215, 90, 70)"/>
<rect x="441.07" y="68.27" width="6.51" height="6.45" fill="rgb(230, 160, 100)"/>
<rect x="447.28" y="68.27" width="6.51" height="6.45" fill="rgb(200, 150, 100)"/>
<rect x="453.48" y="68.27" width="6.51" height="6.45" fill="rgb(190, 150, 80)"/>
<rect x="459.69" y="68.27" width="6.51" height="6.45" fill="rgb(215, 100, 60)"/>
<rect x="385.20" y="74.42" width="6.51" height="6.45" fill="rgb(245, 210, 100)"/>
<rect x="391.41" y="74.42" width="6.51" height="6.45" fill="rgb(230, 225, 120)"/>
<rect x="397.62" y="74.42" width="6.51" height="6.45" fill="rgb(225, 140, 80)"/>
<rect x="403.82" y="74.42" width="6.51" height="6.45" fill="rgb(250, 235, 90)"/>
<rect x="410.03" y="74.42" width="6.51" height="6.45" fill="rgb(180, 200, 90)"/>
<rect x="416.24" y="74.42" width="6.51" height="6.45" fill="rgb(240, 180, 90)"/>
<rect x="422.45" y="74.42" width="6.51" height="6.45" fill="rgb(240, 205, 100)"/>
<rect x="428.65" y="74.42" width="6.51" height="6.45" fill="rgb(200, 140, 70)"/>
<rect x="434.86" y="74.42" width="6.51" height="6.45" fill="rgb(235, 170, 90)"/>
<rect x="441.07" y="74.42" width="6.51" height="6.45" fill="rgb(250, 235, 100)"/>
<rect x="447.28" y="74.42" width="6.51" height="6.45" fill="rgb(215, 220, 110)"/>
<rect x="453.48" y="74.42" width="6.51" height="6.45" fill="rgb(205, 215, 90)"/>
<rect x="459.69" y="74.42" width="6.51" height="6.45" fill="rgb(235, 175, 70)"/>
<rect x="385.20" y="80.56" width="6.51" height="6.45" fill="rgb(205, 195, 130)"/>
<rect x="391.41" y="80.56" width="6.51" height="6.45" fill="rgb(195, 210, 140)"/>
<rect x="397.62" y="80.56" width="6.51" height="6.45" fill="rgb(195, 130, 90)"/>
<rect x="403.82" y="80.56" width="6.51" height="6.45" fill="rgb(220, 220, 130)"/>
<rect x="410.03" y="80.56" width="6.51" height="6.45" fill="rgb(140, 190, 90)"/>
<rect x="416.24" y="80.56" width="6.51" height="6.45" fill="rgb(215, 185, 120)"/>
<rect x="422.45" y="80.56" width="6.51" height="6.45" fill="rgb(205, 195, 125)"/>
<rect x="428.65" y="80.56" width="6.51" height="6.45" fill="rgb(170, 130, 90)"/>
<rect x="434.86" y="80.56" width="6.51" height="6.45" fill="rgb(205, 170, 110)"/>
<rect x="441.07" y="80.56" width="6.51" height="6.45" fill="rgb(210, 220, 120)"/>
<rect x="447.28" y="80.56" width="6.51" height="6.45" fill="rgb(175, 205, 130)"/>
<rect x="453.48" y="80.56" width="6.51" height="6.45" fill="rgb(170, 200, 110)"/>
<rect x="459.69" y="80.56" width="6.51" height="6.45" fill="rgb(205, 170, 100)"/>
<rect x="385.20" y="86.71" width="6.51" height="6.45" fill="rgb(195, 200, 90)"/>
<rect x="391.41" y="86.71" width="6.51" height="6.45" fill="rgb(175, 200, 100)"/>
<rect x="397.62" y="86.71" width="6.51" height="6.45" fill="rgb(175, 110, 60)"/>
<rect x="403.82" y="86.71" width="6.51" height="6.45" fill="rgb(210, 210, 100)"/>
<rect x="410.03" y="86.71" width="6.51" height="6.45" fill="rgb(120, 185, 80)"/>
<rect x="416.24" y="86.71" width="6.51" height="6.45" fill="rgb(190, 180, 90)"/>
<rect x="422.45" y="86.71" width="6.51" height="6.45" fill="rgb(200, 200, 100)"/>
<rect x="428.65" y="86.71" width="6.51" height="6.45" fill="rgb(150, 120, 50)"/>
<rect x="434.86" y="86.71" width="6.51" height="6.45" fill="rgb(190, 160, 80)"/>
<rect x="441.07" y="86.71" width="6.51" height="6.45" fill="rgb(180, 205, 90)"/>
<rect x="447.28" y="86.71" width="6.51" height="6.45" fill="rgb(150, 200, 100)"/>
<rect x="453.48" y="86.71" width="6.51" height="6.45" fill="rgb(140, 190, 80)"/>
<rect x="459.69" y="86.71" width="6.51" height="6.45" fill="rgb(190, 165, 70)"/>
<rect x="385.20" y="92.85" width="6.51" height="6.45" fill="rgb(230, 130, 70)"/>
<rect x="391.41" y="92.85" width="6.51" height="6.45" fill="rgb(220, 140, 90)"/>
<rect x="397.62" y="92.85" width="6.51" height="6.45" fill="rgb(210, 60, 40)"/>
<rect x="403.82" y="92.85" width="6.51" height="6.45" fill="rgb(235, 160, 70)"/>
<rect x="410.03" y="92.85" width="6.51" height="6.45" fill="rgb(160, 150, 80)"/>
<rect x="416.24" y="92.85" width="6.51" height="6.45" fill="rgb(225, 120, 70)"/>
<rect x="422.45" y="92.85" width="6.51" height="6.45" fill="rgb(230, 130, 70)"/>
<rect x="428.65" y="92.85" width="6.51" height="6.45" fill="rgb(190, 60, 30)"/>
<rect x="434.86" y="92.85" width="6.51" height="6.45" fill="rgb(220, 100, 60)"/>
<rect x="441.07" y="92.85" width="6.51" height="6.45" fill="rgb(230, 170, 80)"/>
<rect x="447.28" y="92.85" width="6.51" height="6.45" fill="rgb(210, 150, 70)"/>
<rect x="453.48" y="92.85" width="6.51" height="6.45" fill="rgb(195, 140, 60)"/>
<rect x="459.69" y="92.85" width="6.51" height="6.45" fill="rgb(215, 100, 40)"/>
</g>
<path d="M411.03 28.82 L412.73 30.62 L416.33 26.72" fill="none" stroke="#000" stroke-width="1.3" stroke-linecap="round" stroke-linejoin="round"/>
<path d="M417.24 41.11 L418.94 42.91 L422.54 39.01" fill="none" stroke="#000" stroke-width="1.3" stroke-linecap="round" stroke-linejoin="round"/>
<path d="M423.45 41.11 L425.15 42.91 L428.75 39.01" fill="none" stroke="#000" stroke-width="1.3" stroke-linecap="round" stroke-linejoin="round"/>
<path d="M392.41 47.26 L394.11 49.06 L397.71 45.16" fill="none" stroke="#000" stroke-width="1.3" stroke-linecap="round" stroke-linejoin="round"/>
<path d="M411.03 47.26 L412.73 49.06 L416.33 45.16" fill="none" stroke="#000" stroke-width="1.3" stroke-linecap="round" stroke-linejoin="round"/>
<path d="M442.07 47.26 L443.77 49.06 L447.37 45.16" fill="none" stroke="#000" stroke-width="1.3" stroke-linecap="round" stroke-linejoin="round"/>
<path d="M454.49 47.26 L456.19 49.06 L459.79 45.16" fill="none" stroke="#000" stroke-width="1.3" stroke-linecap="round" stroke-linejoin="round"/>
<path d="M442.07 53.40 L443.77 55.20 L447.37 51.30" fill="none" stroke="#000" stroke-width="1.3" stroke-linecap="round" stroke-linejoin="round"/>
<path d="M411.03 84.13 L412.73 85.93 L416.33 82.03" fill="none" stroke="#000" stroke-width="1.3" stroke-linecap="round" stroke-linejoin="round"/>
<path d="M411.03 90.28 L412.73 92.08 L416.33 88.18" fill="none" stroke="#000" stroke-width="1.3" stroke-linecap="round" stroke-linejoin="round"/>
<path d="M442.07 90.28 L443.77 92.08 L447.37 88.18" fill="none" stroke="#000" stroke-width="1.3" stroke-linecap="round" stroke-linejoin="round"/>
<path d="M454.49 90.28 L456.19 92.08 L459.79 88.18" fill="none" stroke="#000" stroke-width="1.3" stroke-linecap="round" stroke-linejoin="round"/>
<text x="425.50" y="109.70" font-size="8.9" text-anchor="middle" fill="#222" font-weight="normal" textLength="64.5" lengthAdjust="spacingAndGlyphs" stroke="#222" stroke-width="0.2">Peptide Substrate</text>
<text x="425.30" y="118.50" font-size="8.9" text-anchor="middle" fill="#222" font-weight="normal" textLength="30.1" lengthAdjust="spacingAndGlyphs" stroke="#222" stroke-width="0.2">Libraries</text>
<rect x="0.75" y="11.75" width="518.5" height="585.5" fill="none" stroke="#111" stroke-width="1.5"/>
</svg>
</body></html>
